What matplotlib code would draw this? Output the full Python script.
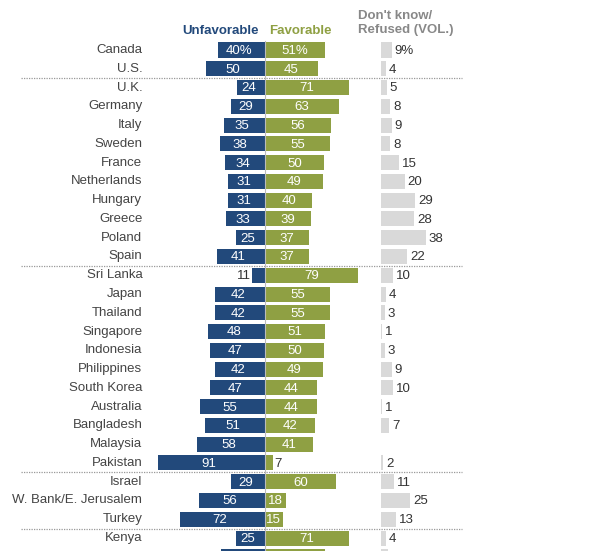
import matplotlib
matplotlib.use('Agg')
import matplotlib.pyplot as plt

plt.rcParams['font.family'] = ['Liberation Sans', 'DejaVu Sans']

countries = ['Canada', 'U.S.', 'U.K.', 'Germany', 'Italy', 'Sweden', 'France',
             'Netherlands', 'Hungary', 'Greece', 'Poland', 'Spain', 'Sri Lanka',
             'Japan', 'Thailand', 'Singapore', 'Indonesia', 'Philippines',
             'South Korea', 'Australia', 'Bangladesh', 'Malaysia', 'Pakistan',
             'Israel', 'W. Bank/E. Jerusalem', 'Turkey', 'Kenya', '']
unfavorable = [40, 50, 24, 29, 35, 38, 34, 31, 31, 33, 25, 41, 11, 42, 42, 48,
               47, 42, 47, 55, 51, 58, 91, 29, 56, 72, 25, 37]
favorable = [51, 45, 71, 63, 56, 55, 50, 49, 40, 39, 37, 37, 79, 55, 55, 51,
             50, 49, 44, 44, 42, 41, 7, 60, 18, 15, 71, 51]
dont_know = [9, 4, 5, 8, 9, 8, 15, 20, 29, 28, 38, 22, 10, 4, 3, 1, 3, 9, 10,
             1, 7, None, 2, 11, 25, 13, 4, 6]
separators = [1.5, 11.5, 22.5, 25.5]

navy = '#22497b'
olive = '#8fa043'
gray = '#d9d9d9'

fig = plt.figure(figsize=(6, 5.51), dpi=100)
ax = fig.add_axes([0, 0, 1, 1])
px = 1.18  # pixels per percentage point
ax.set_xlim(-265 / px, 335 / px)
ax.set_ylim(551 / 18.77 - 50 / 18.77, -50 / 18.77)
ax.axis('off')

dk_start = 98.3
h = 0.8
last = len(countries) - 1
for i, c in enumerate(countries):
    u, f, d = unfavorable[i], favorable[i], dont_know[i]
    ax.barh(i, -u, height=h, color=navy)
    ax.barh(i, f, height=h, color=olive)
    if d is not None:
        ax.barh(i, d, left=dk_start, height=h, color=gray)
    if i == last:
        continue  # row cut off by the image edge
    suf = '%' if i == 0 else ''
    if u >= 12:
        ax.text(-u / 2 - 2, i + 0.05, f'{u}{suf}', color='white', ha='center',
                va='center', fontsize=9.5)
    else:
        ax.text(-u - 1, i + 0.05, f'{u}', color='#333333', ha='right',
                va='center', fontsize=9.5)
    if f >= 12:
        ax.text(f / 2, i + 0.05, f'{f}{suf}', color='white', ha='center',
                va='center', fontsize=9.5)
    else:
        ax.text(f + 1, i + 0.05, f'{f}', color='#333333', ha='left',
                va='center', fontsize=9.5)
    if d is not None:
        ax.text(dk_start + d + 2.5, i + 0.05, f'{d}{suf}', color='#333333',
                ha='left', va='center', fontsize=9.5)
    ax.text(-104, i, c, ha='right', va='center', fontsize=9.5, color='#444444')

for s in separators:
    ax.plot([-207, 167], [s, s], color='#999999', lw=0.9, ls=(0, (1, 1)))
ax.plot([0, 0], [-0.5, len(countries)], color='#bbbbbb', lw=0.8)

ax.text(-38, -1.0, 'Unfavorable', color=navy, ha='center', va='center',
        fontsize=9.5, fontweight='bold')
ax.text(30, -1.0, 'Favorable', color=olive, ha='center', va='center',
        fontsize=9.5, fontweight='bold')
ax.text(79, -1.45, "Don't know/\nRefused (VOL.)", color='#888888', ha='left',
        va='center', fontsize=9.5, fontweight='bold', linespacing=1.2)

fig.savefig('out.png', dpi=100)
